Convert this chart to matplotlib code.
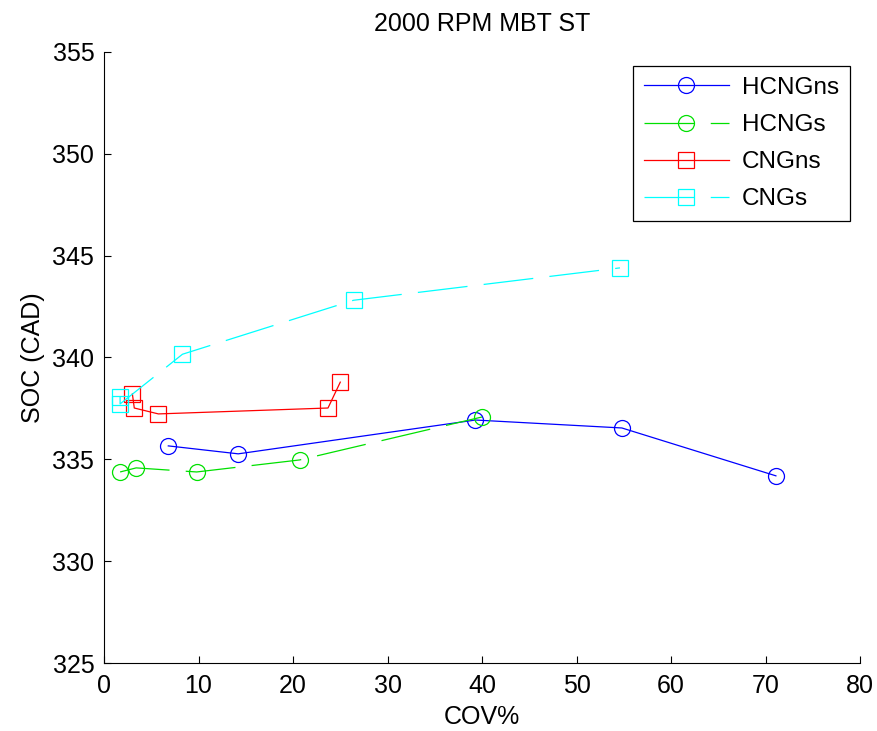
import matplotlib

matplotlib.use("Agg")
import matplotlib.pyplot as plt

plt.rcParams["font.family"] = ["Liberation Sans", "DejaVu Sans"]

FONT_SIZE = 18

# values
hcng_ns_cov = [6.8, 14.2, 39.3, 54.8, 71.1]
hcng_ns_soc = [335.66, 335.27, 336.93, 336.54, 334.19]

hcng_s_cov = [1.7, 3.4, 9.8, 20.7, 40.0]
hcng_s_soc = [334.38, 334.58, 334.38, 334.97, 337.08]

cng_ns_cov = [3.0, 3.2, 5.75, 23.7, 25.0]
cng_ns_soc = [338.21, 337.52, 337.23, 337.52, 338.79]

cng_s_cov = [1.7, 1.7, 8.3, 26.4, 54.6]
cng_s_soc = [338.08, 337.72, 340.16, 342.81, 344.4]

x_ticks = [0, 10, 20, 30, 40, 50, 60, 70, 80]
y_ticks = [325, 330, 335, 340, 345, 350, 355]

fig = plt.figure(figsize=(8.78, 7.31), dpi=100)
ax = fig.add_axes([0.1185, 0.0930, 0.861, 0.8359])

line_kw = dict(linewidth=0.9, markersize=11.5, markerfacecolor="none", markeredgewidth=0.9)
dash = (40, 13)

ax.plot(hcng_ns_cov, hcng_ns_soc, color="#0000ff", marker="o", label="HCNGns", **line_kw)
ax.plot(hcng_s_cov, hcng_s_soc, color="#00e000", marker="o", dashes=dash, label="HCNGs", **line_kw)
ax.plot(cng_ns_cov, cng_ns_soc, color="#ff0000", marker="s", label="CNGns", **line_kw)
ax.plot(cng_s_cov, cng_s_soc, color="#00ffff", marker="s", dashes=dash, label="CNGs", **line_kw)

ax.set_xlim(0, 80)
ax.set_ylim(325, 355)
ax.set_xticks(x_ticks)
ax.set_yticks(y_ticks)
ax.tick_params(direction="in", length=5, width=0.8, labelsize=FONT_SIZE)
ax.tick_params(axis="x", pad=8)
ax.tick_params(axis="y", pad=7)
ax.spines["top"].set_visible(False)
ax.spines["right"].set_visible(False)

ax.set_xlabel("COV%", fontsize=FONT_SIZE, labelpad=5)
ax.set_ylabel("SOC (CAD)", fontsize=FONT_SIZE, labelpad=5)
ax.set_title("2000 RPM MBT ST", fontsize=FONT_SIZE, pad=15)

leg = ax.legend(
    loc="upper right",
    bbox_to_anchor=(0.987, 0.977),
    borderaxespad=0,
    fontsize=17.5,
    handlelength=3.5,
    handletextpad=0.55,
    labelspacing=0.62,
    fancybox=False,
    edgecolor="black",
    framealpha=1,
    borderpad=0.45,
)
leg.get_frame().set_linewidth(0.9)

fig.savefig("out.png", dpi=100)
